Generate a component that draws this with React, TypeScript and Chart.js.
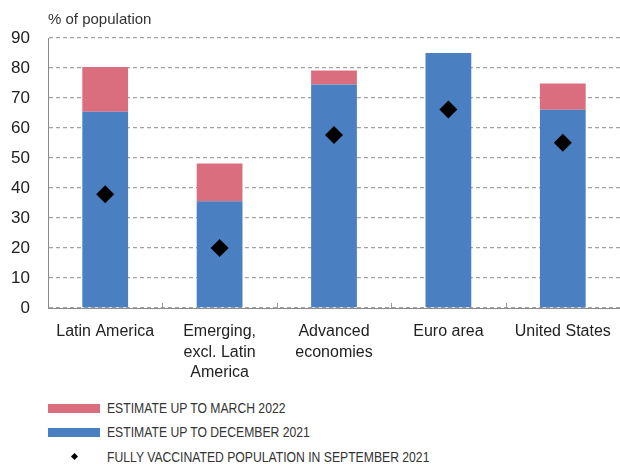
import React, { useEffect, useRef } from "react";
import { Chart, registerables } from "chart.js";
Chart.register(...registerables);

const categories: (string | string[])[] = [
  "Latin America",
  ["Emerging,", "excl. Latin", "America"],
  ["Advanced", "economies"],
  "Euro area",
  "United States",
];
const december2021 = [65.4, 35.6, 74.5, 85.0, 66.1];
const march2022Increment = [14.9, 12.6, 4.7, 0, 8.7];
const september2021Vaccinated = [37.9, 20.0, 57.7, 66.2, 55.1];
const yMin = 0;
const yMax = 90;
const yStep = 10;

const legendLabels = [
  "ESTIMATE UP TO MARCH 2022",
  "ESTIMATE UP TO DECEMBER 2021",
  "FULLY VACCINATED POPULATION IN SEPTEMBER 2021",
];

const RED = "#DB6E7E";
const BLUE = "#4A80C1";
const FONT = "'Liberation Sans', Arial, sans-serif";
const LEGEND_FONT = "'Liberation Sans', Arial, sans-serif";

const innerTicks = {
  id: "innerTicks",
  afterDraw(chart: any) {
    const x = chart.scales.x;
    const { ctx, chartArea } = chart;
    const n = chart.data.labels.length;
    ctx.save();
    ctx.strokeStyle = "#999";
    ctx.lineWidth = 1;
    for (let i = 0; i < n - 1; i++) {
      const px = Math.round((x.getPixelForValue(i) + x.getPixelForValue(i + 1)) / 2) + 0.5;
      ctx.beginPath();
      ctx.moveTo(px, chartArea.bottom);
      ctx.lineTo(px, chartArea.bottom - 5);
      ctx.stroke();
    }
    ctx.restore();
  },
};

export default function App() {
  const ref = useRef<HTMLCanvasElement>(null);
  useEffect(() => {
    const chart = new Chart(ref.current!, {
      type: "bar",
      data: {
        labels: categories,
        datasets: [
          {
            type: "line",
            label: legendLabels[2],
            data: september2021Vaccinated,
            showLine: false,
            pointStyle: "rectRot",
            pointRadius: 9,
            pointBackgroundColor: "#000",
            pointBorderColor: "#000",
            pointBorderWidth: 0,
            order: 0,
            stack: "points",
          } as any,
          {
            label: legendLabels[1],
            data: december2021,
            backgroundColor: BLUE,
            order: 1,
            stack: "bars",
          },
          {
            label: legendLabels[0],
            data: march2022Increment,
            backgroundColor: RED,
            order: 2,
            stack: "bars",
          },
        ],
      },
      options: {
        animation: false,
        responsive: false,
        layout: { autoPadding: false, padding: { top: 38, left: 0, right: -2, bottom: 0 } },
        plugins: { legend: { display: false }, tooltip: { enabled: false } },
        datasets: { bar: { categoryPercentage: 1, barPercentage: 0.4 } },
        scales: {
          x: {
            stacked: true,
            offset: true,
            grid: { display: false, drawTicks: true, tickLength: 13 },
            border: { display: true, color: "#8c8c8c", width: 1 },
            ticks: {
              color: "#222",
              padding: 0,
              maxRotation: 0,
              autoSkip: false,
              font: { family: FONT, size: 16, lineHeight: 1.3 },
            },
            afterFit: (s: any) => {
              s.height = 390 - 308;
              s.paddingLeft = 0;
              s.paddingRight = 0;
            },
          },
          y: {
            stacked: true,
            min: yMin,
            max: yMax,
            grid: { color: "#A3A3A3", lineWidth: 1.3, drawTicks: false },
            border: { display: true, color: "#8c8c8c", width: 1, dash: [4, 3] },
            ticks: {
              stepSize: yStep,
              color: "#222",
              padding: 18,
              font: { family: FONT, size: 17 },
            },
            afterFit: (s: any) => {
              s.width = 48;
            },
          },
        },
      },
      plugins: [innerTicks],
    } as any);
    return () => chart.destroy();
  }, []);

  const textStyle: React.CSSProperties = {
    position: "absolute",
    left: 107,
    fontFamily: LEGEND_FONT,
    fontSize: 14,
    color: "#333",
    lineHeight: "16px",
    whiteSpace: "nowrap",
    transform: "scaleX(0.87)",
    transformOrigin: "left center",
  };

  return (
    <div style={{ position: "absolute", left: 0, top: 0, width: 620, height: 464, background: "#fff" }}>
      <canvas ref={ref} width={620} height={390} style={{ position: "absolute", left: 0, top: 0 }} />
      <div
        style={{
          position: "absolute",
          left: 48,
          top: 10,
          fontFamily: FONT,
          fontSize: 15,
          color: "#333",
          lineHeight: "18px",
          whiteSpace: "nowrap",
        }}
      >
        % of population
      </div>
      <div style={{ position: "absolute", left: 48, top: 404, width: 52, height: 9, background: RED }} />
      <div style={{ ...textStyle, top: 400 }}>{legendLabels[0]}</div>
      <div style={{ position: "absolute", left: 48, top: 428, width: 52, height: 9, background: BLUE }} />
      <div style={{ ...textStyle, top: 424 }}>{legendLabels[1]}</div>
      <div
        style={{
          position: "absolute",
          left: 72,
          top: 454,
          width: 5,
          height: 5,
          background: "#000",
          transform: "rotate(45deg)",
        }}
      />
      <div style={{ ...textStyle, top: 449 }}>{legendLabels[2]}</div>
    </div>
  );
}
